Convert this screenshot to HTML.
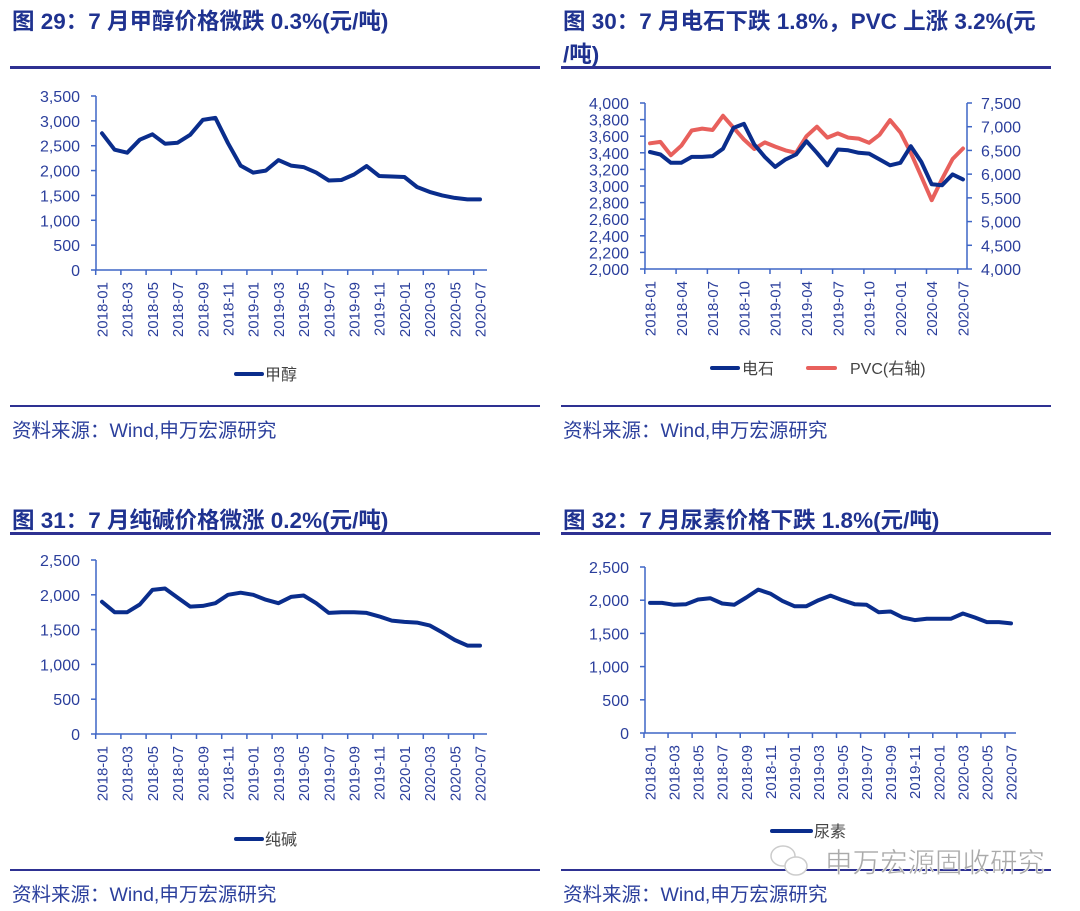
<!DOCTYPE html>
<html><head><meta charset="utf-8">
<style>
html,body{margin:0;padding:0;background:#fff;}
svg{display:block;font-family:"Liberation Sans","Noto Sans CJK SC",sans-serif;}
.t{font-size:22.5px;font-weight:bold;fill:#1f3290;}
.ax{font-size:16px;fill:#2b3f9c;}
.xl{font-size:15px;fill:#2b3f9c;}
.src{font-size:19.5px;fill:#2b3f9c;}
.lg{font-size:16px;fill:#444;}
</style></head>
<body>
<svg id="s" width="1080" height="911" viewBox="0 0 1080 911">
<text class="t" x="12" y="29">图 29：7 月甲醇价格微跌 0.3%(元/吨)</text>
<text class="t" x="563" y="29">图 30：7 月电石下跌 1.8%，PVC 上涨 3.2%(元</text>
<text class="t" x="563" y="62">/吨)</text>
<text class="t" x="12" y="528">图 31：7 月纯碱价格微涨 0.2%(元/吨)</text>
<text class="t" x="563" y="528">图 32：7 月尿素价格下跌 1.8%(元/吨)</text>
<rect x="10" y="66" width="530" height="3" fill="#2e3192"/>
<rect x="561" y="66" width="490" height="3" fill="#2e3192"/>
<rect x="10" y="532" width="530" height="3" fill="#2e3192"/>
<rect x="561" y="532" width="490" height="3" fill="#2e3192"/>
<rect x="10" y="405" width="530" height="2" fill="#2e3192"/>
<rect x="561" y="405" width="490" height="2" fill="#2e3192"/>
<rect x="10" y="869" width="530" height="2" fill="#2e3192"/>
<rect x="561" y="869" width="490" height="2" fill="#2e3192"/>
<text class="src" x="12" y="437">资料来源：Wind,申万宏源研究</text>
<text class="src" x="563" y="437">资料来源：Wind,申万宏源研究</text>
<text class="src" x="12" y="901">资料来源：Wind,申万宏源研究</text>
<text class="src" x="563" y="901">资料来源：Wind,申万宏源研究</text>
<line x1="236" y1="374" x2="262" y2="374" stroke="#0a2d8c" stroke-width="4" stroke-linecap="round"/>
<text class="lg" x="265" y="380">甲醇</text>
<line x1="712" y1="368" x2="738" y2="368" stroke="#0a2d8c" stroke-width="4" stroke-linecap="round"/>
<text class="lg" x="742" y="374">电石</text>
<line x1="808" y1="368" x2="835" y2="368" stroke="#e8605c" stroke-width="4" stroke-linecap="round"/>
<text class="lg" x="850" y="374">PVC(右轴)</text>
<line x1="236" y1="839" x2="262" y2="839" stroke="#0a2d8c" stroke-width="4" stroke-linecap="round"/>
<text class="lg" x="265" y="845">纯碱</text>
<line x1="772" y1="831" x2="811" y2="831" stroke="#0a2d8c" stroke-width="4" stroke-linecap="round"/>
<text class="lg" x="814" y="837">尿素</text>
<g fill="#fff" stroke="#ccc" stroke-width="1.5"><ellipse cx="783" cy="856" rx="12" ry="10"/><ellipse cx="796" cy="866" rx="11" ry="9"/></g>
<text x="825" y="872" style="font-size:27.5px;fill:#aaa;stroke:#fff;stroke-width:0.5">申万宏源固收研究</text>
</svg>
<script>
var S=document.getElementById('s'),NS='http://www.w3.org/2000/svg';
function el(t,a,txt){var e=document.createElementNS(NS,t);for(var k in a)e.setAttribute(k,a[k]);if(txt!=null)e.textContent=txt;S.appendChild(e);return e;}
var months=[];for(var y=2018;y<=2020;y++)for(var m=1;m<=12;m++){if(y==2020&&m>7)break;months.push(y+'-'+(m<10?'0':'')+m);}
function fmt(v){return v.toLocaleString('en-US');}
var AC='#3f66c6';
function chart(o){
  var ax=o.ax,yt=o.yt,yb=o.yb,n=31,st=(o.plast-o.pfirst)/30;
  el('line',{x1:ax,y1:yt,x2:ax,y2:yb,stroke:AC,'stroke-width':1.5});
  el('line',{x1:ax,y1:yb,x2:o.axEnd,y2:yb,stroke:AC,'stroke-width':1.5});
  for(var v=o.min;v<=o.max+0.1;v+=o.step){var yy=yb-(v-o.min)/(o.max-o.min)*(yb-yt);
    el('line',{x1:ax-5,y1:yy,x2:ax,y2:yy,stroke:AC,'stroke-width':1.5});
    el('text',{x:ax-16,y:yy+6,'text-anchor':'end','class':'ax'},fmt(v));}
  if(o.r){var r=o.r;el('line',{x1:r.ax,y1:yt,x2:r.ax,y2:yb,stroke:AC,'stroke-width':1.5});
    for(var v=r.min;v<=r.max+0.1;v+=r.step){var yy=yb-(v-r.min)/(r.max-r.min)*(yb-yt);
      el('line',{x1:r.ax,y1:yy,x2:r.ax+5,y2:yy,stroke:AC,'stroke-width':1.5});
      el('text',{x:r.ax+14,y:yy+6,'class':'ax'},fmt(v));}}
  for(var i=0;i<n;i+=o.every){var px=o.pfirst+i*st;var tx=px-st/2;
    el('line',{x1:tx,y1:yb,x2:tx,y2:yb+5,stroke:AC,'stroke-width':1.5});
    el('text',{x:0,y:0,'text-anchor':'end','class':'xl',transform:'translate('+(px+5.5)+','+(yb+12)+') rotate(-90)'},months[i]);}
  o.series.forEach(function(s){var mn=s.min,mx=s.max,p=[];
    s.d.forEach(function(v,i){p.push((o.pfirst+i*st).toFixed(1)+','+(yb-(v-mn)/(mx-mn)*(yb-yt)).toFixed(1));});
    el('polyline',{points:p.join(' '),fill:'none',stroke:s.c,'stroke-width':4,'stroke-linejoin':'round','stroke-linecap':'round'});});
}
var B='#0a2d8c',R='#e8605c';
chart({ax:96,yt:96,yb:270,axEnd:487,pfirst:102,plast:480,min:0,max:3500,step:500,every:2,
 series:[{c:B,min:0,max:3500,d:[2750,2420,2360,2620,2730,2540,2560,2720,3020,3060,2550,2100,1960,2000,2210,2100,2070,1960,1800,1810,1920,2090,1890,1880,1870,1670,1570,1500,1450,1420,1420]}]});
chart({ax:645,yt:103,yb:269,axEnd:967,pfirst:650,plast:963,min:2000,max:4000,step:200,every:3,
 r:{ax:967,min:4000,max:7500,step:500},
 series:[{c:R,min:4000,max:7500,d:[6650,6680,6400,6600,6920,6960,6930,7230,6980,6730,6530,6670,6580,6500,6450,6800,7000,6770,6860,6770,6750,6660,6830,7140,6880,6450,5950,5450,5900,6320,6540]},
 {c:B,min:2000,max:4000,d:[3410,3380,3280,3280,3350,3350,3360,3450,3700,3750,3500,3350,3230,3320,3380,3540,3400,3250,3440,3430,3400,3390,3320,3250,3280,3480,3290,3020,3010,3140,3080]}]});
chart({ax:96,yt:560,yb:734,axEnd:487,pfirst:102,plast:480,min:0,max:2500,step:500,every:2,
 series:[{c:B,min:0,max:2500,d:[1900,1750,1750,1860,2070,2090,1960,1830,1840,1880,2000,2030,2000,1930,1880,1970,1990,1880,1740,1750,1750,1740,1690,1630,1610,1600,1560,1460,1350,1270,1270]}]});
chart({ax:645,yt:567,yb:733,axEnd:1016,pfirst:650,plast:1011,min:0,max:2500,step:500,every:2,
 series:[{c:B,min:0,max:2500,d:[1960,1960,1930,1940,2010,2030,1950,1930,2040,2160,2100,1990,1910,1910,2000,2070,2000,1940,1930,1820,1830,1740,1700,1720,1720,1720,1800,1740,1670,1670,1650]}]});
</script>
</body></html>
